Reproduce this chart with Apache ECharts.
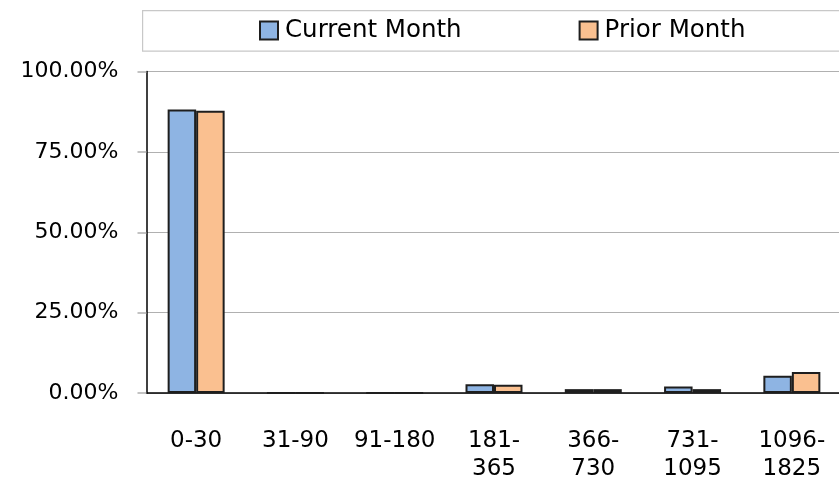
<!DOCTYPE html>
<html>
<head>
<meta charset="utf-8">
<script src="https://cdn.jsdelivr.net/npm/echarts@6/dist/echarts.min.js"></script>
<style>
  html, body { margin: 0; padding: 0; background: #fff; }
  #chart { width: 839px; height: 481px; }
</style>
</head>
<body>
<div id="chart"></div>
<script>
// Age buckets (days) and share of balances per bucket
const categories = ['0-30', '31-90', '91-180', '181-365', '366-730', '731-1095', '1096-1825'];
const currentMonth = [88.2, 0, 0, 2.7, 1.2, 2.0, 5.4];
const priorMonth = [87.8, 0, 0, 2.6, 1.2, 1.2, 6.5];
const yTicks = [0, 25, 50, 75, 100];

const FONT = 'DejaVu Sans';
const chart = echarts.init(document.getElementById('chart'), null, { renderer: 'canvas' });

chart.setOption({
  animation: false,
  textStyle: { fontFamily: FONT },
  graphic: [{
    type: 'rect',
    left: 142, top: 10,
    shape: { width: 720, height: 40.5 },
    style: { fill: '#fff', stroke: '#c8c8c8', lineWidth: 1.2 },
    z: 0
  }],
  legend: {
    top: 18,
    left: 259,
    padding: 0,
    itemWidth: 18,
    itemHeight: 18,
    itemGap: 117,
    icon: 'rect',
    textStyle: { fontFamily: FONT, fontSize: 24.5, lineHeight: 25, color: '#000', padding: [0, 0, 0, 2] },
    data: ['Current Month', 'Prior Month']
  },
  grid: { left: 146.5, top: 71.5, width: 695, height: 321.5, outerBoundsMode: 'none', containLabel: false },
  xAxis: {
    type: 'category',
    data: categories,
    axisLine: { lineStyle: { color: '#000', width: 1.5 } },
    axisTick: { alignWithLabel: false, length: 9, lineStyle: { color: '#b0b0b0', width: 1.5 } },
    axisLabel: {
      interval: 0,
      margin: 34,
      fontSize: 23,
      lineHeight: 28,
      color: '#000',
      formatter: v => (v.length > 6 ? v.replace('-', '-\n') : v)
    }
  },
  yAxis: {
    type: 'value',
    min: yTicks[0],
    max: yTicks[yTicks.length - 1],
    interval: yTicks[1] - yTicks[0],
    axisLine: { show: true, lineStyle: { color: '#000', width: 1.5 } },
    axisTick: { show: true, length: 9, lineStyle: { color: '#b0b0b0', width: 1.5 } },
    splitLine: { lineStyle: { color: '#b0b0b0', width: 1.2 } },
    axisLabel: {
      margin: 28,
      fontSize: 22,
      color: '#000',
      formatter: v => v.toFixed(2) + '%'
    }
  },
  series: [
    {
      name: 'Current Month',
      type: 'bar',
      data: currentMonth,
      barGap: '0%',
      barCategoryGap: '42.6%',
      itemStyle: { color: '#8EB4E3', borderColor: '#1e1e1e', borderWidth: 2 }
    },
    {
      name: 'Prior Month',
      type: 'bar',
      data: priorMonth,
      itemStyle: { color: '#FAC090', borderColor: '#1e1e1e', borderWidth: 2 }
    }
  ]
});
</script>
</body>
</html>
